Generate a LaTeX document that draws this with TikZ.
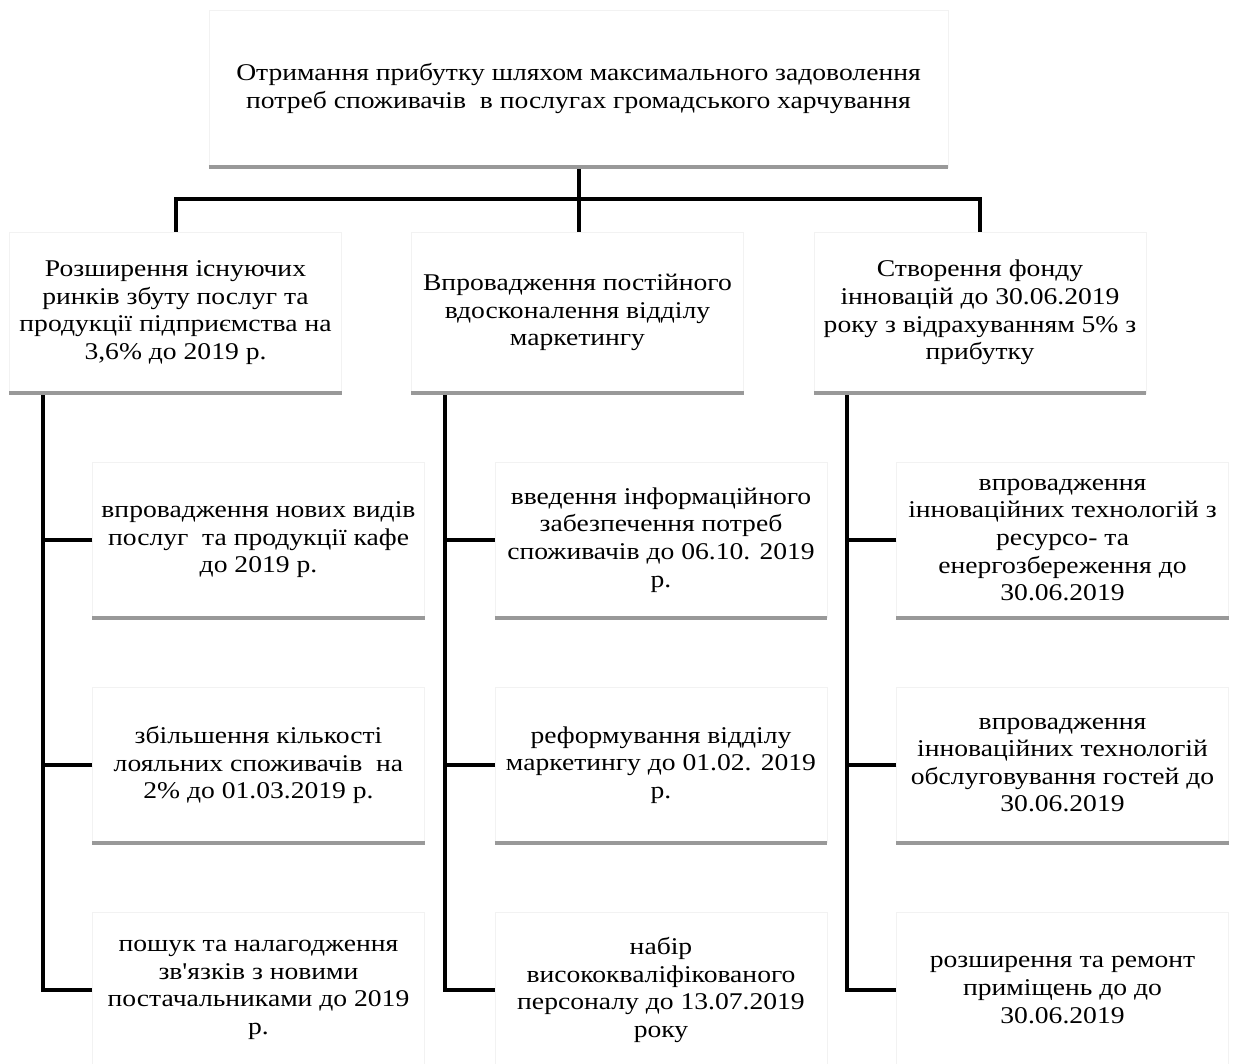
\documentclass[tikz,border=0pt]{standalone}
\usepackage{fontspec}
\setmainfont{Liberation Serif}[Ligatures=TeXOff, FakeStretch=1.15]
\begin{document}
\begin{tikzpicture}[x=1pt,y=-1pt,
  box/.style={draw=gray!10, fill=white, inner sep=0pt, align=center,
    font=\fontsize{24}{27.6}\selectfont},
  lvtwo/.style={box, minimum width=332pt, minimum height=161pt},
  lvthree/.style={box, minimum width=332pt, minimum height=155pt},
  conn/.style={line width=4pt, draw=black, line join=miter},
  shadeline/.style={line width=4pt, draw=black!40}]
\useasboundingbox (0,0) rectangle (1237,1064);
\fill[white] (0,0) rectangle (1237,1064);

% top
\node[box, minimum width=739pt, minimum height=157pt] (top) at (578.5,88.5)
  {Отримання прибутку шляхом максимального задоволення\\потреб споживачів~ в послугах громадського харчування};

% level 2
\node[lvtwo] (A) at (175.5,312.5)
  {Розширення існуючих\\ринків збуту послуг та\\продукції підприємства на\\3,6\% до 2019 р.};
\node[lvtwo] (B) at (577.5,312.5)
  {Впровадження постійного\\вдосконалення відділу\\маркетингу};
\node[lvtwo] (C) at (980,312.5)
  {Створення фонду\\інновацій до 30.06.2019\\року з відрахуванням 5\% з\\прибутку};

% level 3, column A
\node[lvthree] (a1) at (258.5,540)
  {впровадження нових видів\\послуг~ та продукції кафе\\до 2019 р.};
\node[lvthree] (a2) at (258.5,765)
  {збільшення кількості\\лояльних споживачів~ на\\2\% до 01.03.2019 р.};
\node[lvthree] (a3) at (258.5,990)
  {пошук та налагодження\\зв'язків з новими\\постачальниками до 2019\\р.};

% column B
\node[lvthree] (b1) at (661,540)
  {введення інформаційного\\забезпечення потреб\\споживачів до 06.10. 2019\\р.};
\node[lvthree] (b2) at (661,765)
  {реформування відділу\\маркетингу до 01.02. 2019\\р.};
\node[lvthree] (b3) at (661,990)
  {набір\\висококваліфікованого\\персоналу до 13.07.2019\\року};

% column C
\node[lvthree] (c1) at (1062.5,540)
  {впровадження\\інноваційних технологій з\\ресурсо- та\\енергозбереження до\\30.06.2019};
\node[lvthree] (c2) at (1062.5,765)
  {впровадження\\інноваційних технологій\\обслуговування гостей до\\30.06.2019};
\node[lvthree] (c3) at (1062.5,990)
  {розширення та ремонт\\приміщень до до\\30.06.2019};

% connectors level 1 -> level 2
\coordinate (bar) at (578.5,199);
\draw[conn] (top.south) -- (top.south |- B.north);
\draw[conn] (A.north) -- (A.north |- bar) -- (C.north |- bar) -- (C.north);

% column spines
\coordinate (colA) at (43,393);
\coordinate (colB) at (445,393);
\coordinate (colC) at (847,393);
\draw[conn] (colA) |- (a3.west);
\draw[conn] (a1.west) -- (a1.west -| colA);
\draw[conn] (a2.west) -- (a2.west -| colA);
\draw[conn] (colB) |- (b3.west);
\draw[conn] (b1.west) -- (b1.west -| colB);
\draw[conn] (b2.west) -- (b2.west -| colB);
\draw[conn] (colC) |- (c3.west);
\draw[conn] (c1.west) -- (c1.west -| colC);
\draw[conn] (c2.west) -- (c2.west -| colC);

% grey bottom edges
\foreach \n in {top,A,B,C,a1,a2,a3,b1,b2,b3,c1,c2,c3}
  \draw[shadeline] (\n.south west) -- (\n.south east);
\end{tikzpicture}
\end{document}
